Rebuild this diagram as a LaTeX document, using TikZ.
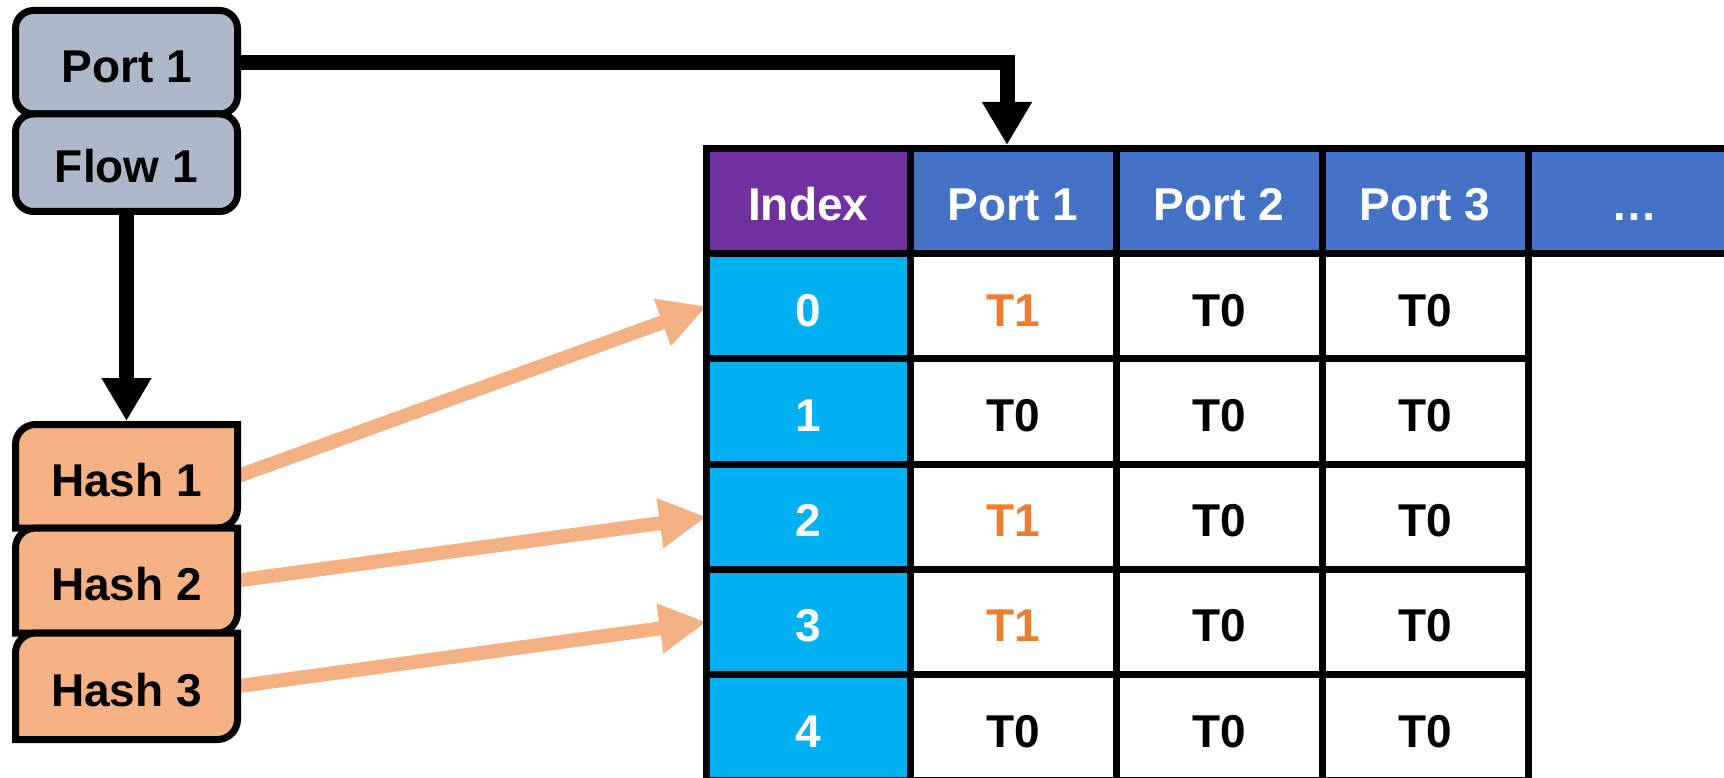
\documentclass[tikz,border=0pt]{standalone}
\usepackage{fontspec}
\setmainfont{Liberation Sans}
\usetikzlibrary{arrows.meta}
\pgfdeclarelayer{background}
\pgfsetlayers{background,main}

\definecolor{boxgray}{HTML}{ADB9CA}
\definecolor{hashorange}{HTML}{F4B183}
\definecolor{idxpurple}{HTML}{7030A0}
\definecolor{portblue}{HTML}{4472C4}
\definecolor{idxcyan}{HTML}{00B0F0}
\definecolor{hitorange}{HTML}{ED7D31}

% hash box: rounded top-left and bottom-right corners, square elsewhere
\newcommand{\hashshape}[4]{%
  \filldraw[hashshape] (#1,#4) -- (#1,#2+20)
    .. controls (#1,#2+9) and (#1+9,#2) .. (#1+20,#2)
    -- (#3,#2) -- (#3,#4-20)
    .. controls (#3,#4-9) and (#3-9,#4) .. (#3-20,#4) -- cycle;}

\begin{document}
\begin{tikzpicture}[x=1pt,y=-1pt,
  lbl/.style={font=\fontsize{46}{55}\selectfont\bfseries, text height=39.6pt,
    text depth=0pt, inner sep=0pt, outer sep=0pt},
  keybox/.style={lbl, draw=black, line width=7pt, fill=boxgray,
    rounded corners=18pt, minimum width=222pt},
  hashshape/.style={draw=black, line width=7pt, fill=hashorange},
  hashlbl/.style={lbl, minimum width=222pt},
  cell/.style={lbl, draw=black, line width=7pt, fill=white,
    minimum width=206pt, minimum height=105.25pt},
  headcell/.style={cell, fill=portblue, text=white},
  idxcell/.style={cell, fill=idxcyan, text=white, minimum width=203.5pt},
  hit/.style={cell, text=hitorange},
  blackarrow/.style={draw=black, line width=15pt,
    -{Triangle[width=47pt, length=43pt]}},
  hasharrow/.style={draw=hashorange, line width=14pt,
    -{Triangle[width=47pt, length=47pt]}},
]
\useasboundingbox (0,0) rectangle (1724,778);
\clip (0,0) rectangle (1724,778);

% key boxes
\node[keybox, minimum height=103.5pt] (p1) at (126.5,62.25) {Port 1};
\node[keybox, minimum height=97.5pt] (f1) at (126.5,162.75) {Flow 1};

% hash boxes
\hashshape{15.5}{424.5}{237.5}{528}
\hashshape{15.5}{528}{237.5}{633}
\hashshape{15.5}{633}{237.5}{739.5}
\node[hashlbl, minimum height=103.5pt] (h1) at (126.5,476.25) {Hash 1};
\node[hashlbl, minimum height=105pt] (h2) at (126.5,580.5) {Hash 2};
\node[hashlbl, minimum height=106.5pt] (h3) at (126.5,686.25) {Hash 3};

% table header
\node[cell, fill=idxpurple, text=white, minimum width=203.5pt] (hidx) at (808.25,201.1) {Index};
\node[headcell] (hp1) at (1013,201.1) {Port 1};
\node[headcell] (hp2) at (1219,201.1) {Port 2};
\node[headcell] (hp3) at (1425,201.1) {Port 3};
\node[headcell, minimum width=212pt] (hdots) at (1634,201.1) {…};

% table body
\node[idxcell] (c0) at (808.25,306.4) {0};
\node[hit] (v0a) at (1013,306.4) {T1};
\node[cell] (v0b) at (1219,306.4) {T0};
\node[cell] (v0c) at (1425,306.4) {T0};

\node[idxcell] (c1) at (808.25,411.6) {1};
\node[cell] (v1a) at (1013,411.6) {T0};
\node[cell] (v1b) at (1219,411.6) {T0};
\node[cell] (v1c) at (1425,411.6) {T0};

\node[idxcell] (c2) at (808.25,516.9) {2};
\node[hit] (v2a) at (1013,516.9) {T1};
\node[cell] (v2b) at (1219,516.9) {T0};
\node[cell] (v2c) at (1425,516.9) {T0};

\node[idxcell] (c3) at (808.25,622.1) {3};
\node[hit] (v3a) at (1013,622.1) {T1};
\node[cell] (v3b) at (1219,622.1) {T0};
\node[cell] (v3c) at (1425,622.1) {T0};

\node[idxcell] (c4) at (808.25,727.4) {4};
\node[cell] (v4a) at (1013,727.4) {T0};
\node[cell] (v4b) at (1219,727.4) {T0};
\node[cell] (v4c) at (1425,727.4) {T0};

% connectors
\draw[blackarrow, shorten >=3.5pt] (p1.east) -| ([xshift=-6pt]hp1.north);
\draw[blackarrow, shorten >=3.5pt] (f1.south) -- (h1.north);
\begin{pgfonlayer}{background}
  \draw[hasharrow] (h1.east) -- (c0.west);
  \draw[hasharrow] (h2.east) -- (c2.west);
  \draw[hasharrow] (h3.east) -- (c3.west);
\end{pgfonlayer}
\end{tikzpicture}
\end{document}
